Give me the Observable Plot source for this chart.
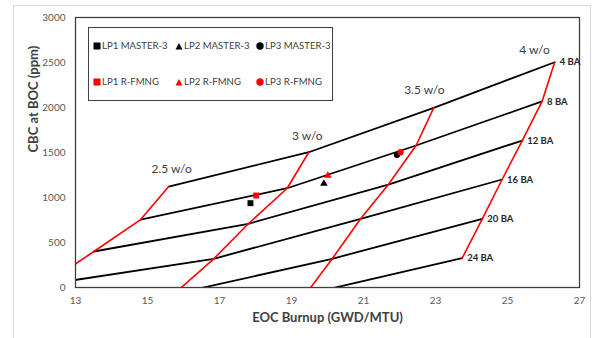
<!DOCTYPE html>
<html><head><meta charset="utf-8">
<script src="https://cdn.jsdelivr.net/npm/d3@7"></script>
<script src="https://cdn.jsdelivr.net/npm/@observablehq/plot@0.6"></script>
<style>
body{margin:0;background:#fff;font-family:Lato,"Open Sans",sans-serif}
#wrap{position:relative;width:595px;height:338px;overflow:hidden;background:#fff}
#outer{position:absolute;left:13px;top:5px;width:578px;height:400px;border:1px solid #d9d9d9;box-sizing:border-box}
#chart{position:absolute;left:0;top:0}
#legend{position:absolute;left:88px;top:27px;width:245px;height:74px;border:1px solid #404040;background:#fff;box-sizing:border-box;font-size:9.6px;color:#404040}
.item{position:absolute;height:12px;line-height:12px;white-space:nowrap}
.item svg{position:absolute;left:-9px;top:1px}
</style></head><body>
<div id="wrap"><div id="outer"></div><div id="chart"></div><div id="legend"></div></div>
<script>
// Enrichment levels (order of points along each BA line)
const enrichment = ["2.5 w/o", "3 w/o", "3.5 w/o", "4 w/o"];
const baLevels = ["4 BA", "8 BA", "12 BA", "16 BA", "20 BA", "24 BA"];

// EOC burnup (GWD/MTU) and CBC at BOC (ppm) per BA level, indexed by enrichment (null = no point)
const burnup4BA  = [15.59, 19.48, 22.95, 26.31];
const cbc4BA     = [1122, 1503, 1996, 2503];
const burnup8BA  = [14.81, 18.88, 22.46, 25.96];
const cbc8BA     = [755, 1103, 1578, 2067];
const burnup12BA = [13.51, 17.80, 21.69, 25.41];
const cbc12BA    = [400, 708, 1144, 1633];
const burnup16BA = [12.14, 16.84, 20.92, 24.85];
const cbc16BA    = [32, 319, 763, 1200];
const burnup20BA = [null, 15.73, 20.13, 24.30];
const cbc20BA    = [null, -74, 319, 763];
const burnup24BA = [null, null, 19.39, 23.74];
const cbc24BA    = [null, null, -77, 326];

// Loading-pattern results
const lpNames  = ["LP1 MASTER-3", "LP2 MASTER-3", "LP3 MASTER-3", "LP1 R-FMNG", "LP2 R-FMNG", "LP3 R-FMNG"];
const lpBurnup = [17.86, 19.90, 21.93, 18.02, 20.01, 22.03];
const lpCbc    = [937, 1155, 1474, 1022, 1244, 1503];
const lpCode   = ["MASTER-3", "MASTER-3", "MASTER-3", "R-FMNG", "R-FMNG", "R-FMNG"];
const lpShape  = ["square", "triangle", "circle", "square", "triangle", "circle"];

// Enrichment label anchors (data units)
const enrichLabelX = [15.67, 19.44, 22.69, 25.75];
const enrichLabelY = [1311, 1681, 2189, 2641];

// Tick values
const xTicks = [13, 15, 17, 19, 21, 23, 25, 27];
const yTicks = [0, 500, 1000, 1500, 2000, 2500, 3000];

const burnupSets = [burnup4BA, burnup8BA, burnup12BA, burnup16BA, burnup20BA, burnup24BA];
const cbcSets = [cbc4BA, cbc8BA, cbc12BA, cbc16BA, cbc20BA, cbc24BA];
const grid = [];
baLevels.forEach((ba, i) => enrichment.forEach((e, j) => {
  if (burnupSets[i][j] != null) grid.push({ba, e, ei: j, bi: i, x: burnupSets[i][j], y: cbcSets[i][j]});
}));
const byEnrich = d3.sort(grid, d => d.ei, d => d.bi);
const ends = grid.filter(d => d.e === "4 w/o");
const lps = lpNames.map((n, i) => ({name: n, x: lpBurnup[i], y: lpCbc[i], code: lpCode[i], shape: lpShape[i]}));
const enrichLabels = enrichment.map((e, i) => ({e, x: enrichLabelX[i], y: enrichLabelY[i]}));
const dotR = d => d.shape === "triangle" ? 3 : d.shape === "square" ? 4.2 : 3.8;

const chart = Plot.plot({
  width: 595, height: 338,
  marginLeft: 75, marginRight: 16, marginTop: 17, marginBottom: 51,
  style: {fontFamily: "Lato, sans-serif", fontSize: "10px", color: "#595959", background: "transparent"},
  x: {domain: [13, 27]},
  y: {domain: [0, 3000]},
  marks: [
    Plot.line(grid, {x: "x", y: "y", z: "ba", stroke: "#000", strokeWidth: 1.8, clip: true}),
    Plot.line(byEnrich, {x: "x", y: "y", z: "e", stroke: "#ff0000", strokeWidth: 1.6, clip: true}),
    Plot.frame({stroke: "#404040", strokeWidth: 1.3}),
    Plot.axisX({ticks: xTicks, tickSize: 0, tickPadding: 9, label: null, tickFormat: d => String(d), fill: "#595959"}),
    Plot.axisY({ticks: yTicks, tickSize: 0, tickPadding: 10, label: null, tickFormat: d => String(d), fill: "#595959"}),
    Plot.dot(lps.filter(d => d.code === "MASTER-3"), {x: "x", y: "y", symbol: "shape", fill: "#000", r: dotR}),
    Plot.dot(lps.filter(d => d.code === "R-FMNG"), {x: "x", y: "y", symbol: "shape", fill: "#ff0000", r: dotR}),
    Plot.text(enrichLabels, {x: "x", y: "y", text: "e", fontSize: 12, fill: "#404040"}),
    Plot.text(ends, {x: "x", y: "y", text: "ba", textAnchor: "start", dx: 5, fontSize: 9.5, fontWeight: "bold", fill: "#262626"}),
    Plot.text(["EOC Burnup (GWD/MTU)"], {frameAnchor: "bottom", dy: 34, fontSize: 13, fontWeight: "bold", fill: "#404040"}),
    Plot.text(["CBC at BOC (ppm)"], {frameAnchor: "left", dx: -42, rotate: -90, fontSize: 13, fontWeight: "bold", fill: "#404040"})
  ]
});
document.getElementById("chart").appendChild(chart);

// Legend
const legend = document.getElementById("legend");
const colX = [13, 95, 176];
const rowY = [12, 48];
function sym(shape, color) {
  if (shape === "square") return `<svg width="8" height="10"><rect x="0.5" y="1.5" width="7" height="7" fill="${color}"/></svg>`;
  if (shape === "triangle") return `<svg width="8" height="10"><path d="M4 2 L7.5 8.5 L0.5 8.5 Z" fill="${color}"/></svg>`;
  return `<svg width="8" height="10"><circle cx="4" cy="5" r="3.7" fill="${color}"/></svg>`;
}
lps.forEach((d, i) => {
  const el = document.createElement("div");
  el.className = "item";
  el.style.left = colX[i % 3] + "px";
  el.style.top = rowY[Math.floor(i / 3)] + "px";
  el.innerHTML = sym(d.shape, d.code === "MASTER-3" ? "#000" : "#ff0000") + d.name;
  legend.appendChild(el);
});
</script>
</body></html>
